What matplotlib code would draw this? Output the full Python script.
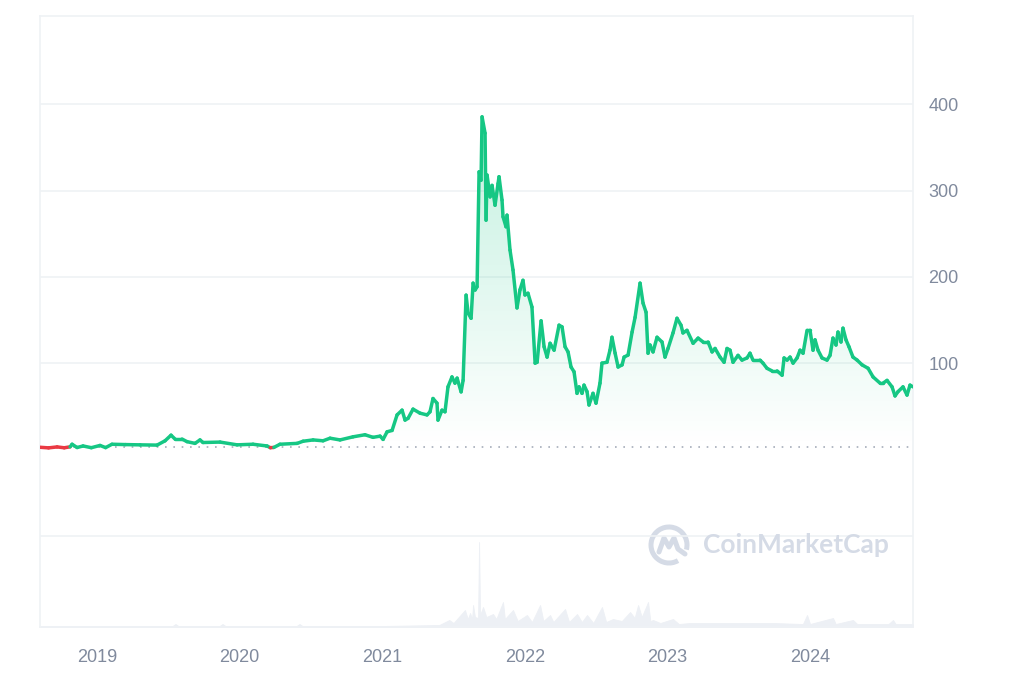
import matplotlib.pyplot as plt
import numpy as np
from matplotlib.collections import LineCollection
from matplotlib.colors import LinearSegmentedColormap
from matplotlib.patches import Arc

plt.rcParams['font.family'] = ['Liberation Sans', 'DejaVu Sans']

# price, USD (time in decimal years)
dates = [2018.600, 2018.660, 2018.720, 2018.770, 2018.811, 2018.825, 2018.860, 2018.902, 2018.960,
         2019.021, 2019.060, 2019.105, 2019.200, 2019.302, 2019.421, 2019.477, 2019.519, 2019.547,
         2019.596, 2019.631, 2019.687, 2019.722, 2019.743, 2019.863, 2019.982, 2020.094, 2020.192,
         2020.215, 2020.240, 2020.283, 2020.403, 2020.445, 2020.515, 2020.585, 2020.634, 2020.704,
         2020.795, 2020.879, 2020.935, 2020.985, 2021.006, 2021.034, 2021.069, 2021.104, 2021.139,
         2021.160, 2021.181, 2021.216, 2021.265, 2021.314, 2021.335, 2021.356, 2021.384, 2021.391,
         2021.419, 2021.440, 2021.461, 2021.489, 2021.510, 2021.525, 2021.553, 2021.567, 2021.588,
         2021.602, 2021.623, 2021.637, 2021.651, 2021.665, 2021.679, 2021.693, 2021.700, 2021.721,
         2021.728, 2021.735, 2021.756, 2021.770, 2021.791, 2021.812, 2021.819, 2021.840, 2021.847,
         2021.868, 2021.875, 2021.896, 2021.917, 2021.945, 2021.966, 2021.987, 2022.001, 2022.022,
         2022.050, 2022.072, 2022.086, 2022.114, 2022.135, 2022.156, 2022.177, 2022.205, 2022.240,
         2022.261, 2022.282, 2022.303, 2022.324, 2022.345, 2022.366, 2022.380, 2022.401, 2022.415,
         2022.436, 2022.450, 2022.478, 2022.499, 2022.527, 2022.541, 2022.576, 2022.597, 2022.611,
         2022.633, 2022.654, 2022.682, 2022.696, 2022.724, 2022.752, 2022.773, 2022.808, 2022.829,
         2022.850, 2022.864, 2022.878, 2022.899, 2022.927, 2022.962, 2022.983, 2023.004, 2023.039,
         2023.067, 2023.095, 2023.109, 2023.137, 2023.180, 2023.215, 2023.250, 2023.285, 2023.313,
         2023.334, 2023.369, 2023.397, 2023.418, 2023.439, 2023.460, 2023.495, 2023.523, 2023.558,
         2023.579, 2023.600, 2023.649, 2023.670, 2023.698, 2023.733, 2023.769, 2023.804, 2023.818,
         2023.839, 2023.860, 2023.881, 2023.909, 2023.930, 2023.951, 2023.979, 2024.000, 2024.021,
         2024.035, 2024.056, 2024.084, 2024.119, 2024.140, 2024.161, 2024.182, 2024.196, 2024.217,
         2024.231, 2024.252, 2024.273, 2024.301, 2024.330, 2024.365, 2024.407, 2024.442, 2024.491,
         2024.512, 2024.540, 2024.575, 2024.596, 2024.617, 2024.652, 2024.680, 2024.701, 2024.722]
prices = [2.5, 1.8, 2.9, 1.9, 3.0, 6.0, 2.2, 4.0, 2.0,
          4.6, 2.1, 6.0, 5.6, 5.3, 5.0, 10.0, 16.5, 12.0,
          12.0, 9.0, 7.0, 11.0, 8.0, 8.5, 5.3, 6.0, 4.0,
          2.0, 2.3, 6.0, 7.0, 9.5, 11.0, 10.0, 13.0, 11.0,
          14.6, 17.0, 14.0, 15.4, 11.6, 20.4, 22.0, 40.0, 45.5,
          34.0, 36.0, 46.7, 42.0, 40.0, 43.6, 59.0, 53.6, 34.0,
          45.5, 43.6, 72.5, 84.0, 76.8, 82.6, 66.7, 80.0, 178.8,
          158.0, 152.0, 192.7, 184.7, 188.5, 321.7, 312.0, 385.4, 366.5,
          265.7, 318.0, 292.7, 306.0, 283.0, 308.0, 316.0, 289.0, 269.7,
          258.0, 271.5, 231.0, 208.0, 164.0, 185.0, 196.0, 179.0, 181.0,
          165.0, 100.0, 101.0, 149.0, 119.0, 107.0, 123.0, 115.0, 144.0,
          142.0, 119.0, 113.0, 95.5, 90.0, 65.0, 72.5, 65.0, 74.5,
          67.0, 51.5, 65.0, 53.6, 76.8, 100.0, 101.0, 115.0, 130.0,
          111.5, 95.5, 98.0, 107.0, 109.4, 136.0, 153.0, 192.7, 169.5,
          159.0, 111.5, 121.0, 113.0, 130.0, 124.5, 107.0, 117.0, 135.0,
          152.0, 144.0, 135.0, 138.0, 123.0, 129.0, 124.5, 124.5, 113.0,
          117.0, 107.0, 101.0, 117.0, 115.0, 101.0, 109.0, 103.5, 106.0,
          111.5, 103.5, 103.5, 100.0, 94.0, 91.0, 91.0, 86.0, 106.0,
          103.5, 107.0, 100.0, 106.0, 115.0, 111.5, 138.0, 138.0, 115.0,
          127.0, 115.0, 106.0, 103.5, 109.0, 129.0, 121.0, 136.0, 124.5,
          140.5, 127.0, 119.0, 107.0, 103.5, 98.0, 94.0, 84.0, 76.8,
          76.8, 80.0, 72.5, 62.0, 67.0, 72.5, 63.0, 74.5, 72.5]

# 24h volume, million USD
vol_dates = [2018.600, 2019.530, 2019.550, 2019.570, 2019.860, 2019.880, 2019.900, 2020.400, 2020.420,
             2020.440, 2021.000, 2021.400, 2021.470, 2021.500, 2021.580, 2021.600, 2021.616, 2021.630,
             2021.637, 2021.650, 2021.672, 2021.679, 2021.686, 2021.707, 2021.730, 2021.777, 2021.800,
             2021.847, 2021.860, 2021.917, 2021.950, 2022.015, 2022.050, 2022.107, 2022.130, 2022.177,
             2022.200, 2022.282, 2022.310, 2022.366, 2022.400, 2022.436, 2022.480, 2022.541, 2022.570,
             2022.618, 2022.680, 2022.738, 2022.770, 2022.794, 2022.820, 2022.864, 2022.880, 2022.899,
             2022.950, 2023.039, 2023.080, 2023.158, 2023.439, 2023.740, 2023.950, 2023.979, 2024.000,
             2024.161, 2024.180, 2024.301, 2024.330, 2024.550, 2024.582, 2024.600, 2024.722]
volumes = [10, 10, 30, 10, 10, 30, 10, 10, 30,
           10, 10, 20, 70, 40, 170, 80, 140, 80,
           220, 100, 90, 850, 120, 200, 100, 130, 80,
           250, 80, 170, 60, 120, 50, 220, 60, 120,
           50, 180, 50, 130, 50, 120, 40, 200, 50,
           80, 60, 150, 90, 220, 100, 250, 60, 70,
           40, 80, 30, 40, 40, 40, 30, 120, 30,
           90, 30, 70, 30, 30, 70, 30, 30]

year_ticks = [2019, 2020, 2021, 2022, 2023, 2024]
price_ticks = [100, 200, 300, 400]

green = '#16c784'
red = '#ea3943'
grid_c = '#eff2f5'
label_c = '#808a9d'

fig = plt.figure(figsize=(10.24, 6.83), dpi=100, facecolor='white')
ax = fig.add_axes([40 / 1024, 56 / 683, 873 / 1024, 611 / 683])

# volume on its own scale in the bottom strip
axv = ax.twinx()
axv.fill_between(vol_dates, volumes, 0, color='#edf0f5', lw=0.6, edgecolor='#edf0f5')
axv.set_ylim(0, 6110)
axv.axis('off')
ax.set_zorder(axv.get_zorder() + 1)
ax.patch.set_visible(False)

t = np.array(dates)
p = np.array(prices)
base = p[0]

# gradient under the line
grad_cmap = LinearSegmentedColormap.from_list(
    'g', [(0.086, 0.78, 0.52, 0.0), (0.086, 0.78, 0.52, 0.26)])
poly = ax.fill_between(t, p, base, color='none', lw=0)
img = ax.imshow(np.linspace(0, 1, 256).reshape(-1, 1), cmap=grad_cmap, aspect='auto',
                origin='lower', extent=[t[0], t[-1], base, 390], zorder=1)
img.set_clip_path(poly.get_paths()[0], transform=ax.transData)

# price line, red where below the opening price
pts = np.column_stack([t, p])
segs = np.stack([pts[:-1], pts[1:]], axis=1)
seg_cols = [red if (a + b) / 2 < base else green for a, b in zip(p[:-1], p[1:])]
lc = LineCollection(segs, colors=seg_cols, linewidths=2.5, capstyle='round',
                    joinstyle='round', zorder=4)
ax.add_collection(lc)

ax.axhline(base, color='#a6adba', lw=1.2, linestyle=(0, (1, 4)), zorder=3)

for v in price_ticks + [-100]:
    ax.axhline(v, color=grid_c, lw=1.2, zorder=0)

ax.set_xlim(t[0], t[-1])
axv.set_xlim(t[0], t[-1])
ax.set_ylim(-205.8, 502.3)
ax.yaxis.tick_right()
ax.set_yticks(price_ticks)
ax.set_xticks(year_ticks)
ax.set_xticklabels([str(y) for y in year_ticks])
ax.tick_params(axis='both', length=0, labelsize=13, labelcolor=label_c)
ax.tick_params(axis='x', pad=16)
ax.tick_params(axis='y', pad=11)
for s in ax.spines.values():
    s.set_color(grid_c)
    s.set_linewidth(1.2)

# watermark
fig.text(703 / 1024, (683 - 545) / 683, 'CoinMarketCap', fontsize=19, fontweight='bold',
         color='#d5dbe6', va='center', ha='left', family=['Lato', 'DejaVu Sans'], zorder=10)
axl = fig.add_axes([647 / 1024, (683 - 567) / 683, 44 / 1024, 44 / 683])
axl.set_xlim(-1.1, 1.1)
axl.set_ylim(-1.1, 1.1)
axl.set_aspect('equal')
axl.axis('off')
axl.add_patch(Arc((0, 0), 1.8, 1.8, theta1=-15, theta2=300, lw=3.6, color='#d5dbe6'))
axl.plot([-0.5, -0.25, 0.0, 0.25, 0.45, 0.8], [-0.35, 0.35, -0.1, 0.35, -0.2, -0.45],
         color='#d5dbe6', lw=3.6, solid_capstyle='round', solid_joinstyle='round')

fig.savefig('out.png', dpi=100, facecolor='white')
